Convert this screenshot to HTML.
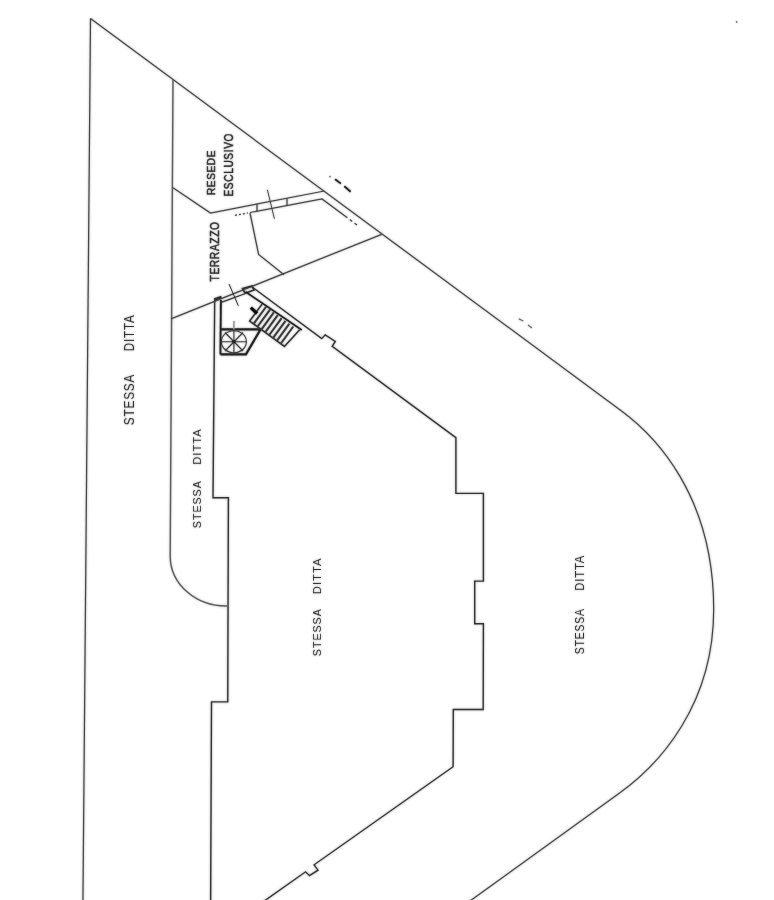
<!DOCTYPE html>
<html>
<head>
<meta charset="utf-8">
<style>
html,body{margin:0;padding:0;background:#fff;width:774px;height:900px;overflow:hidden;}
svg{display:block;}
text{font-family:"Liberation Sans",sans-serif;fill:#333;}
</style>
</head>
<body>
<svg width="774" height="900" viewBox="0 0 774 900">
<defs><filter id="bl" x="-5%" y="-5%" width="110%" height="110%"><feGaussianBlur in="SourceGraphic" stdDeviation="0.8" result="b"/><feComponentTransfer in="b" result="h"><feFuncA type="linear" slope="0.45"/></feComponentTransfer><feMerge><feMergeNode in="h"/><feMergeNode in="SourceGraphic"/></feMerge></filter></defs>
<g filter="url(#bl)">
<g fill="none" stroke="#444" stroke-width="1.25" stroke-linejoin="miter" stroke-linecap="butt">
  <!-- outer left line -->
  <path d="M90.5 18.6 L82.9 905"/>
  <!-- outer diagonal + arc + lower diagonal -->
  <path d="M90.5 18.6 L621.2 410.7 C653.8 434.8 713.7 494.1 713.7 609.2 C713.7 705.3 659.1 764.6 619.6 793.0 L464.4 905"/>
  <!-- middle strip line with curve -->
  <path d="M173 79.3 L170.2 556.4 A56 50 0 0 0 227 606" stroke="#5a5a5a" stroke-width="1.4"/>
  <!-- terrazzo boundary -->
  <path d="M171 318.8 L381.7 234.3"/>
  <!-- resede boundary + wall upper -->
  <path d="M173 187.8 L210.5 213 L324.4 191"/>
  <!-- wall lower line -->
  <path d="M250 212.5 L322 199 L345 216"/>
  <path d="M235 215.3 L248 213" stroke-dasharray="2 2"/>
  <path d="M345 216 L358 225.8" stroke-dasharray="3 3"/>
  <!-- jamb ticks -->
  <path d="M257 204 L257 211.5 M287 198.5 L287 206"/>
  <!-- cross mark -->
  <path d="M267.4 189.8 L274.4 218.8" stroke-width="1"/>
  <!-- terrazzo inner line -->
  <path d="M250 213 L258.6 254.5 L284 274.7"/>
  <!-- outside dashes -->
  <path d="M335.1 179.3 L340.9 183.6 M344.4 186.3 L350.6 191.7" stroke-width="1.8" stroke="#222"/>
  <path d="M329.5 176 L330.5 177.3 M736.5 21 L736.8 22.8" stroke-width="1.4" stroke="#777"/>
  <path d="M518.7 318.7 L523.3 321 M528 325 L532 328" stroke-width="1.2" stroke="#666"/>
</g>
<g fill="none" stroke="#333" stroke-width="1.4" stroke-linejoin="miter">
  <!-- building outline -->
  <path d="M251.8 286.8 L321.7 338.6 L325.2 334.8 L335.3 341.4 L332.2 346.4 L455.9 437.7 L455.9 493.4 L483.4 493.4 L483.4 581.1 L474.7 581.1 L474.7 623.7 L483.4 623.7 L483.2 709.5 L453.3 709.5 L453.1 766.7 L314.1 864.8 L318 870.2 L309.5 875.7 L305.6 871.8 L260 904"/>
  <!-- left wall -->
  <path d="M214.7 298.7 L213 497.8 L228.4 497.8 L227.75 701.9 L211.5 701.9 L210.6 905"/>
  <path d="M214.2 299.5 L221.5 297" stroke-width="2.4"/>
  <path d="M220.9 300 L220.4 354.3" stroke-width="1.9" stroke="#222"/>
  <!-- door opening lower line -->
  <path d="M220.5 302.6 L245.5 293.5" stroke-width="1.2"/>
  <path d="M229 284 L238.3 305.7" stroke-width="1"/>
  <path d="M242.5 288.5 L252 286 L254 290 L245 293.2 Z" stroke-width="1.6"/>
  <!-- inner diagonal wall -->
  <path d="M245.5 291.8 L301.8 330" stroke-width="1.7" stroke="#222"/>
  <!-- spiral box -->
  <path d="M220.4 329.4 L260.6 329.4 L245.9 354.3 L220.4 354.3" stroke-width="2.2" stroke="#222"/>
</g>
<g transform="translate(249 291.5) rotate(36.13)" fill="none" stroke="#333">
  <path d="M18 2.5 L18 23.5 L61 23.5 L63.5 1" stroke-width="1.6"/>
  <path d="M22.8 2.2 V23.5 M27.6 2.2 V23.5 M32.4 2.2 V23.5 M37.2 2.2 V23.5 M42 2.2 V23.5 M46.8 2.2 V23.5 M51.6 2.2 V23.5 M56.4 2.2 V23.5" stroke="#3a3a3a" stroke-width="2"/>
  <path d="M11 12 L19.5 13" stroke="#111" stroke-width="3.2"/>
</g>
<g fill="none" stroke="#3a3a3a" stroke-width="1.1">
  <ellipse cx="233.9" cy="341.7" rx="12.5" ry="11"/>
  <path d="M233.9 329.4 L233.9 354.3 M221 341.7 L246 341.7 M225 332.5 L243 351 M243 332.5 L225 351"/>
  <path d="M233.9 321 L233.9 329.4" stroke="#999" stroke-width="1.6"/>
  <circle cx="233.9" cy="341.7" r="1.6" fill="#222" stroke="none"/>
</g>
<g font-size="14">
  <text transform="translate(133.7 425.3) rotate(-90)" font-size="14.4" letter-spacing="1" textLength="51.6" lengthAdjust="spacingAndGlyphs">STESSA</text>
  <text transform="translate(133.7 351.2) rotate(-90)" font-size="14.4" letter-spacing="1" textLength="36.7" lengthAdjust="spacingAndGlyphs">DITTA</text>
  <text transform="translate(200.8 528.2) rotate(-90)" font-size="11.0" letter-spacing="1" textLength="48.0" lengthAdjust="spacingAndGlyphs">STESSA</text>
  <text transform="translate(200.8 464.8) rotate(-90)" font-size="11.0" letter-spacing="1" textLength="36.6" lengthAdjust="spacingAndGlyphs">DITTA</text>
  <text transform="translate(320.8 656.2) rotate(-90)" font-size="11.0" letter-spacing="1" textLength="48.0" lengthAdjust="spacingAndGlyphs">STESSA</text>
  <text transform="translate(320.8 594.2) rotate(-90)" font-size="11.0" letter-spacing="1" textLength="36.7" lengthAdjust="spacingAndGlyphs">DITTA</text>
  <text transform="translate(584.2 654.2) rotate(-90)" font-size="13.1" letter-spacing="1" textLength="46.0" lengthAdjust="spacingAndGlyphs">STESSA</text>
  <text transform="translate(584.2 590.8) rotate(-90)" font-size="13.1" letter-spacing="1" textLength="36.0" lengthAdjust="spacingAndGlyphs">DITTA</text>
  <text transform="translate(215.4 195.1) rotate(-90)" font-size="10.8" letter-spacing="0.8" textLength="45.2" lengthAdjust="spacingAndGlyphs" stroke="#333" stroke-width="0.45">RESEDE</text>
  <text transform="translate(233.2 196.5) rotate(-90)" font-size="12.8" letter-spacing="0.8" textLength="63.5" lengthAdjust="spacingAndGlyphs" stroke="#333" stroke-width="0.45">ESCLUSIVO</text>
  <text transform="translate(219.1 281.5) rotate(-90)" font-size="13.5" letter-spacing="0.8" textLength="60.2" lengthAdjust="spacingAndGlyphs" stroke="#333" stroke-width="0.45">TERRAZZO</text>
</g>
</g>
</svg>
</body>
</html>
